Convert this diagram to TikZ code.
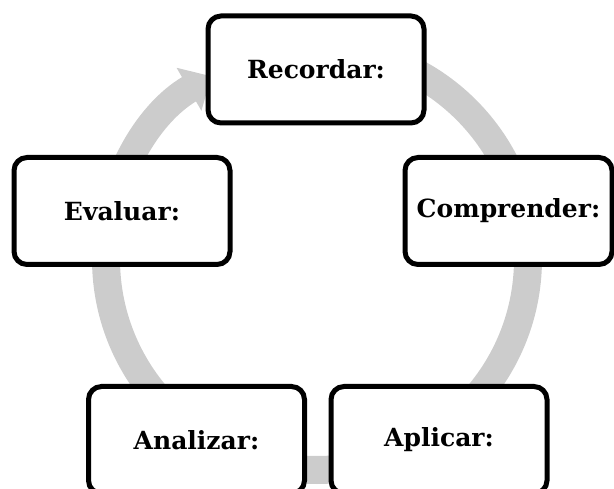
\documentclass[tikz,border=0pt]{standalone}
\usepackage{fontspec}
\setmainfont{DejaVu Serif}
\usetikzlibrary{arrows.meta}

\begin{document}
\begin{tikzpicture}[x=1pt,y=1pt]
        \tikzset{
            stage/.style={rectangle, rounded corners=13pt, draw=black, line width=5pt, fill=white,
            minimum width=216pt, minimum height=107pt, inner sep=0pt,
            font=\fontsize{25}{29}\selectfont\bfseries},
            ring/.style={line width=28pt, draw=black!20, -{Triangle[length=26pt,width=48pt]}}
            }

            \useasboundingbox (0,0) rectangle (614,488);

            % grey cycle behind the boxes
            \coordinate (c) at (317,229);
            \draw[ring] (c) ++(90:211pt) arc[start angle=90, end angle=-240, radius=211pt];

            \node[stage] (n1) at (316,418.5) {Recordar:};
            \node[stage, minimum width=207pt] (n2) at (508.5,277) {Comprender:};
            \node[stage] (n3) at (439,48) {Aplicar:};
            \node[stage] (n4) at (196.5,48) {Analizar:};
            \node[stage] (n5) at (122,277) {Evaluar:};
        \end{tikzpicture}
\end{document}
